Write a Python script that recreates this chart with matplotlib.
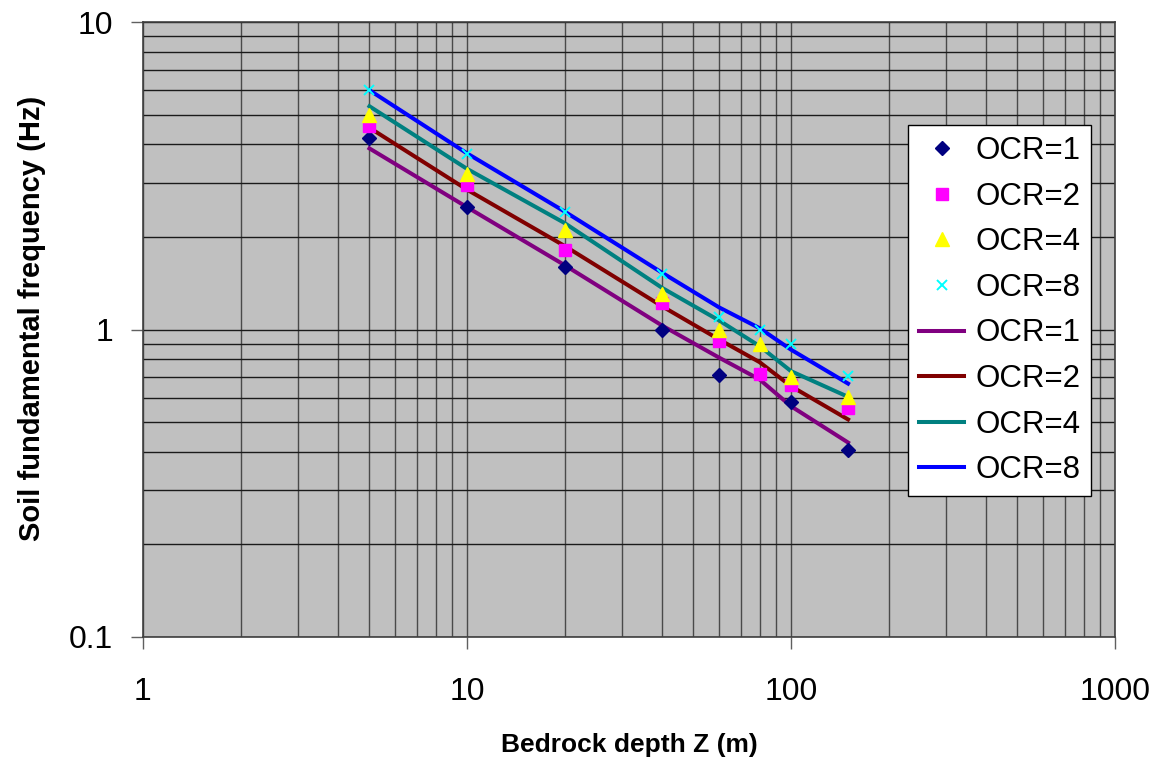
import numpy as np
import matplotlib
matplotlib.use("Agg")
import matplotlib.pyplot as plt
from matplotlib.ticker import LogLocator, FixedLocator, NullFormatter, FuncFormatter

plt.rcParams['font.family'] = ['Liberation Sans', 'DejaVu Sans']

# Bedrock depth Z (m)
depth = [5, 10, 20, 40, 60, 80, 100, 150]

# Measured fundamental frequencies (Hz)
meas_ocr1 = [4.2, 2.5, 1.6, 1.0, 0.71, np.nan, 0.58, 0.407]
meas_ocr2 = [4.6, 2.95, 1.82, 1.22, 0.92, 0.714, 0.66, 0.556]
meas_ocr4 = [5.0, 3.2, 2.1, 1.3, 1.0, 0.90, 0.70, 0.604]
meas_ocr8 = [6.0, 3.72, 2.41, 1.52, 1.1, 1.0, 0.90, 0.705]

# Predicted fundamental frequencies (Hz)
pred_ocr1 = [3.88, 2.5, 1.62, 1.03, 0.81, 0.688, 0.563, 0.429]
pred_ocr2 = [4.53, 2.85, 1.87, 1.19, 0.928, 0.783, 0.654, 0.51]
pred_ocr4 = [5.32, 3.33, 2.22, 1.366, 1.07, 0.883, 0.732, 0.604]
pred_ocr8 = [6.0, 3.74, 2.42, 1.53, 1.18, 1.01, 0.86, 0.667]

labels = ["OCR=1", "OCR=2", "OCR=4", "OCR=8"]

W, H = 1157, 761
fig = plt.figure(figsize=(W / 100, H / 100), dpi=100)
L, R, T, B = 143, 1115, 22, 637
ax = fig.add_axes([L / W, 1 - B / H, (R - L) / W, (B - T) / H])
ax.set_facecolor('#C0C0C0')

ax.set_xscale('log')
ax.set_yscale('log')
ax.set_xlim(1, 1000)
ax.set_ylim(0.1, 10)

# grid on every decade and sub-decade line
ax.xaxis.set_major_locator(FixedLocator([1, 10, 100, 1000]))
ax.yaxis.set_major_locator(FixedLocator([0.1, 1, 10]))
ax.xaxis.set_minor_locator(LogLocator(base=10, subs=np.arange(2, 10)))
ax.yaxis.set_minor_locator(LogLocator(base=10, subs=np.arange(2, 10)))
ax.xaxis.set_minor_formatter(NullFormatter())
ax.yaxis.set_minor_formatter(NullFormatter())
ax.xaxis.set_major_formatter(FuncFormatter(lambda v, p: f"{v:g}"))
ax.yaxis.set_major_formatter(FuncFormatter(lambda v, p: f"{v:g}"))

ax.grid(True, which='both', axis='x', color='#4a4a4a', linewidth=1.0)
ax.grid(True, which='both', axis='y', color='#1a1a1a', linewidth=1.0)
ax.set_axisbelow(True)

ax.tick_params(which='minor', length=0)
ax.tick_params(which='major', direction='out', length=8.6, width=1.0,
               color='#606060', labelsize=23)
ax.tick_params(axis='y', pad=13)
ax.tick_params(axis='x', pad=20)
for s in ax.spines.values():
    s.set_color('#404040')
    s.set_linewidth(1.2)

# measured points
ax.plot(depth, meas_ocr1, linestyle='none', marker='D', ms=7, color='#000080',
        label=labels[0], zorder=4)
ax.plot(depth, meas_ocr2, linestyle='none', marker='s', ms=8.5, color='#FF00FF',
        label=labels[1], zorder=4)
ax.plot(depth, meas_ocr4, linestyle='none', marker='^', ms=9.5, color='#FFFF00',
        label=labels[2], zorder=4)
ax.plot(depth, meas_ocr8, linestyle='none', marker='x', ms=7.5, mew=1.4,
        color='#00FFFF', label=labels[3], zorder=4)

# predicted curves
ax.plot(depth, pred_ocr1, color='#800080', lw=2.9, label=labels[0], zorder=3)
ax.plot(depth, pred_ocr2, color='#800000', lw=2.9, label=labels[1], zorder=3)
ax.plot(depth, pred_ocr4, color='#008080', lw=2.9, label=labels[2], zorder=3)
ax.plot(depth, pred_ocr8, color='#0000FF', lw=2.9, label=labels[3], zorder=3)

ax.set_xlabel('Bedrock depth Z (m)', fontsize=19, fontweight='bold', labelpad=19)
ax.set_ylabel('Soil fundamental frequency (Hz)', fontsize=21, fontweight='bold',
              va='center', ha='center')
ax.yaxis.set_label_coords((32 - L) / (R - L), (B - 318) / (B - T))

leg = ax.legend(loc='upper left', bbox_to_anchor=(908 / W, 1 - 125 / H),
                bbox_transform=fig.transFigure, borderaxespad=0,
                fontsize=22.5, frameon=True, fancybox=False, framealpha=1,
                edgecolor='#000000', labelspacing=0.5, handlelength=1.45,
                handletextpad=0.35, borderpad=0.35, numpoints=1)
leg.get_frame().set_linewidth(1.0)

fig.savefig('out.png', dpi=100)
